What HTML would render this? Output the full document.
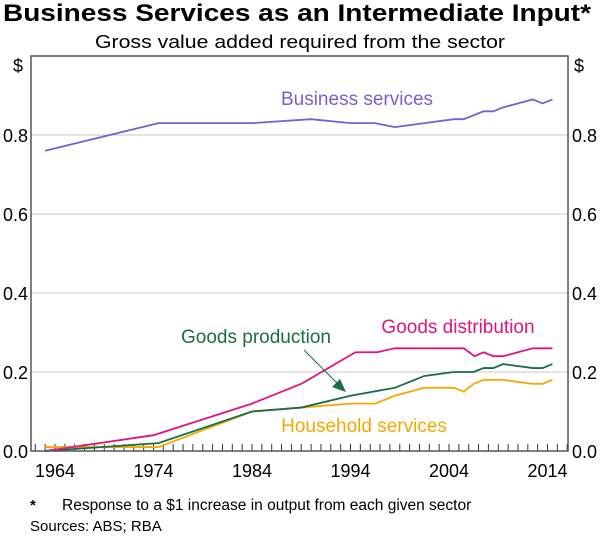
<!DOCTYPE html>
<html><head><meta charset="utf-8"><style>
body{margin:0;background:#fff;font-family:"Liberation Sans",sans-serif}
svg text{font-family:"Liberation Sans",sans-serif}
</style></head><body>
<svg width="600" height="536" viewBox="0 0 600 536">
<text x="3" y="21" textLength="588" lengthAdjust="spacingAndGlyphs" font-size="24" font-weight="bold" fill="#000">Business Services as an Intermediate Input*</text>
<text x="95" y="48" textLength="410" lengthAdjust="spacingAndGlyphs" font-size="18" fill="#000">Gross value added required from the sector</text>
<g id="grid"></g>
<g id="ticks"></g>
<g id="series"></g>
<rect x="31" y="56" width="537" height="395" fill="none" stroke="#555" stroke-width="1.5"/>
<text x="18" y="72" text-anchor="middle" font-size="18">$</text>
<text x="579" y="72" text-anchor="middle" font-size="18">$</text>
<text x="357" y="105" text-anchor="middle" font-size="19" fill="#7b5fcf">Business services</text>
<text x="458" y="333" text-anchor="middle" font-size="19" fill="#e0157e">Goods distribution</text>
<text x="256" y="343" text-anchor="middle" font-size="19" fill="#1a6e43">Goods production</text>
<text x="364" y="432" text-anchor="middle" font-size="19" fill="#f5a800">Household services</text>
<line x1="304" y1="350" x2="340" y2="386" stroke="#1a6e43" stroke-width="1"/>
<polygon points="346,392 332,387 340,379" fill="#1a6e43"/>
<text x="30" y="510" font-size="15" font-weight="bold">*</text>
<text x="62" y="510" font-size="15.5">Response to a $1 increase in output from each given sector</text>
<text x="30" y="531" font-size="15">Sources: ABS; RBA</text>
</svg>
<script>
const yTicks=[0,0.2,0.4,0.6,0.8];
const yTickLabels=["0.0","0.2","0.4","0.6","0.8"];
const xTickYears=[1964,1974,1984,1994,2004,2014];
const yearsBS=[1963,1974.5,1984,1990,1994,1996.5,1998.5,2001.5,2004.5,2005.5,2007.5,2008.5,2009.5,2012.5,2013.5,2014.5];
const valsBS=[0.76,0.83,0.83,0.84,0.83,0.83,0.82,0.83,0.84,0.84,0.86,0.86,0.87,0.89,0.88,0.89];
const yearsGD=[1963,1974,1984,1989,1994.5,1996.7,1998.5,2005.5,2006.6,2007.5,2008.5,2009.5,2012.5,2014.5];
const valsGD=[0,0.04,0.12,0.17,0.25,0.25,0.26,0.26,0.24,0.25,0.24,0.24,0.26,0.26];
const yearsGP=[1963,1974.5,1984,1989,1994,1998.5,2001.5,2004.5,2006.5,2007.5,2008.5,2009.5,2012.5,2013.5,2014.5];
const valsGP=[0,0.02,0.10,0.11,0.14,0.16,0.19,0.20,0.20,0.21,0.21,0.22,0.21,0.21,0.22];
const yearsHS=[1963,1974.5,1984,1989,1994,1996.5,1998.5,2001.5,2004.5,2005.5,2006.5,2007.5,2009.5,2012.5,2013.5,2014.5];
const valsHS=[0.01,0.01,0.10,0.11,0.12,0.12,0.14,0.16,0.16,0.15,0.17,0.18,0.18,0.17,0.17,0.18];
const NS="http://www.w3.org/2000/svg";
function xs(y){return 55+(y-1964)*9.85;}
function ys(v){return 451-v*395;}
function mk(t,a,p){const e=document.createElementNS(NS,t);for(const k in a)e.setAttribute(k,a[k]);p.appendChild(e);return e;}
const grid=document.getElementById('grid'),ticks=document.getElementById('ticks'),ser=document.getElementById('series');
yTicks.forEach((v,i)=>{
 if(v>0){const l=mk('line',{x1:31,x2:568,y1:ys(v),y2:ys(v),stroke:'#c8c8c8','stroke-width':1},grid);
 
 }
 const a=mk('text',{x:28,y:ys(v)+7,'text-anchor':'end','font-size':18},ticks);a.textContent=yTickLabels[i];
 
 
 const b=mk('text',{x:572,y:ys(v)+7,'text-anchor':'start','font-size':18},ticks);b.textContent=yTickLabels[i];
 
 
});
for(let yr=1962;yr<=2016;yr++){const t=mk('line',{x1:xs(yr),x2:xs(yr),y1:451,y2:444,stroke:'#333','stroke-width':1},ticks);
 
 }
xTickYears.forEach(yr=>{const t=mk('text',{x:xs(yr),y:477,'text-anchor':'middle','font-size':18},ticks);t.textContent=yr;
 
 });
function line(yrs,vals,col,name){const p=mk('polyline',{points:yrs.map((y,i)=>xs(y)+','+ys(vals[i])).join(' '),fill:'none',stroke:col,'stroke-width':1.8},ser);
 
 }
line(yearsHS,valsHS,'#f5a800','household-services-line');
line(yearsGP,valsGP,'#1a6e43','goods-production-line');
line(yearsGD,valsGD,'#e0157e','goods-distribution-line');
line(yearsBS,valsBS,'#7b5fcf','business-services-line');
</script>
</body></html>
